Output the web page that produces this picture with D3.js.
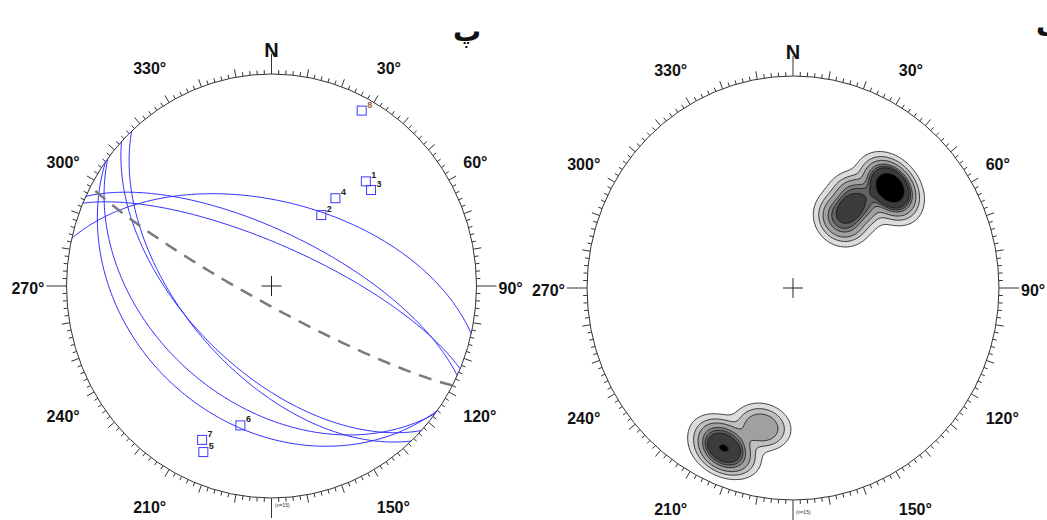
<!DOCTYPE html>
<html><head><meta charset="utf-8">
<script src="https://cdn.jsdelivr.net/npm/d3@7"></script>
<style>body{margin:0;background:#fff}svg{display:block}</style>
</head><body>
<svg id="chart" width="1047" height="520"></svg>
<script>
// Poles to the measured planes (trend / plunge, degrees), lower hemisphere
const poleIds     = [1, 2, 3, 4, 5, 6, 7, 8];
const poleTrend   = [43, 36, 47, 37, 203, 193, 205, 28];
const polePlunge  = [33, 56, 34, 47, 16, 33, 21, 7];
// Number of measurements carried by each pole in the density count (n = 15)
const poleCount   = [3, 2, 3, 2, 2, 1, 2, 0];
// Planes drawn as great circles (dip direction / dip)
const planeDipDir = [223, 216, 227, 217, 23, 13, 25];
const planeDip    = [57, 34, 56, 43, 74, 57, 69];
// Dashed great circle
const dashedDipDir = [208];
const dashedDip    = [83];
// Compass ring
const ringAngles = [30, 60, 90, 120, 150, 210, 240, 270, 300, 330];
const ringLabels = ["30°", "60°", "90°", "120°", "150°", "210°", "240°", "270°", "300°", "330°"];
const northLabel = "N";
const countLabel = "(n=15)";
const panelLabels = ["پ", "ب"];
// Density contour levels (smoothed counts) and their fills
const densityLevels = [0.08, 0.25, 0.55, 1.1, 1.5, 1.9, 3.4];
const levelFills = ["#dcdcdc", "#bfbfbf", "#a0a0a0", "#828282", "#626262", "#3c3c3c", "#000000"];

const rad = Math.PI / 180;
const svg = d3.select("#chart");

function dirVec(trend, plunge) {
  const t = trend * rad, p = plunge * rad;
  return [Math.cos(p) * Math.cos(t), Math.cos(p) * Math.sin(t), Math.sin(p)];
}
// Schmidt (equal-area) lower-hemisphere projection of a unit vector (N, E, Down)
function project(v) {
  let [n, e, d] = v;
  if (d < 0) { n = -n; e = -e; d = -d; }
  const theta = Math.acos(Math.min(1, d));
  const r = Math.SQRT2 * Math.sin(theta / 2);
  const h = Math.hypot(n, e);
  if (h < 1e-12) return [0, 0];
  return [r * e / h, r * n / h];
}
function greatCircle(dipDir, dip) {
  const s = dirVec(dipDir - 90, 0), u = dirVec(dipDir, dip);
  return d3.range(0, 180.5, 1).map(a => {
    const c = Math.cos(a * rad), sn = Math.sin(a * rad);
    return project([s[0] * c + u[0] * sn, s[1] * c + u[1] * sn, s[2] * c + u[2] * sn]);
  });
}

function drawNet(cx, cy, rx, ry, countPos) {
  const g = svg.append("g");
  const x = d3.scaleLinear().domain([-1, 1]).range([cx - rx, cx + rx]);
  const y = d3.scaleLinear().domain([-1, 1]).range([cy + ry, cy - ry]);
  const ring = (deg, extra) => [cx + (rx + extra) * Math.sin(deg * rad), cy - (ry + extra) * Math.cos(deg * rad)];

  g.append("ellipse").attr("cx", cx).attr("cy", cy).attr("rx", rx).attr("ry", ry)
    .attr("fill", "none").attr("stroke", "#333").attr("stroke-width", 1);

  const ticks = d3.range(0, 360, 2);
  g.append("g").selectAll("line").data(ticks).join("line")
    .each(function (d) {
      const len = d % 90 === 0 ? 20 : (d % 10 === 0 ? 8 : 4);
      const a = ring(d, 0), b = ring(d, len);
      d3.select(this).attr("x1", a[0]).attr("y1", a[1]).attr("x2", b[0]).attr("y2", b[1]);
    })
    .attr("stroke", "#333").attr("stroke-width", 1);

  // centre cross
  g.append("path").attr("d", `M${cx - 10},${cy}H${cx + 10}M${cx},${cy - 10}V${cy + 10}`)
    .attr("stroke", "#222").attr("stroke-width", 1);

  // azimuth labels: the corner of each label nearest the ring sits just outside it
  const lab = g.append("g").attr("font-family", "Liberation Sans, Arial, sans-serif")
    .attr("font-weight", "bold").attr("font-size", 16).attr("fill", "#111");
  ringAngles.forEach((deg, i) => {
    const s = Math.sin(deg * rad), c = Math.cos(deg * rad);
    const p = ring(deg, 0);
    const ax = p[0] + 22 * s * s * s;
    let base;
    if (c > 0.1) base = p[1] - 35 * c * Math.sqrt(c);
    else if (c < -0.1) base = p[1] + 30 * (-c) * Math.sqrt(-c) + 19;
    else base = p[1] + 8;
    const anchor = s > 0.1 ? "start" : (s < -0.1 ? "end" : "middle");
    lab.append("text").attr("x", ax).attr("y", base).attr("text-anchor", anchor).text(ringLabels[i]);
  });
  g.append("text").attr("x", cx).attr("y", cy - ry - 17).attr("text-anchor", "middle")
    .attr("font-family", "Liberation Sans, Arial, sans-serif").attr("font-weight", "bold")
    .attr("font-size", 20).attr("fill", "#111").text(northLabel);
  g.append("text").attr("x", countPos[0]).attr("y", countPos[1]).attr("font-size", 5)
    .attr("font-family", "Liberation Sans, Arial, sans-serif").attr("fill", "#333").text(countLabel);
  return {g, x, y, cx, cy, rx, ry};
}

// ---------- left net: planes and poles ----------
const L = drawNet(271.5, 286, 205, 212, [275, 507]);
const lineL = d3.line().x(d => L.x(d[0])).y(d => L.y(d[1]));

L.g.append("g").selectAll("path").data(planeDipDir).join("path")
  .attr("d", (d, i) => lineL(greatCircle(d, planeDip[i])))
  .attr("fill", "none").attr("stroke", "#2f2fff").attr("stroke-width", 1);

L.g.append("g").selectAll("path").data(dashedDipDir).join("path")
  .attr("d", (d, i) => lineL(greatCircle(d, dashedDip[i])))
  .attr("fill", "none").attr("stroke", "#7a7a7a").attr("stroke-width", 2.5)
  .attr("stroke-dasharray", "13,9");

const polesXY = poleTrend.map((t, i) => project(dirVec(t, polePlunge[i])));
const poleG = L.g.append("g");
poleG.selectAll("rect").data(polesXY).join("rect")
  .attr("x", d => L.x(d[0]) - 4.5).attr("y", d => L.y(d[1]) - 4.5)
  .attr("width", 9).attr("height", 9)
  .attr("fill", "none").attr("stroke", "#3a3aff").attr("stroke-width", 1);
poleG.selectAll("text").data(polesXY).join("text")
  .attr("x", d => L.x(d[0]) + 5.5).attr("y", d => L.y(d[1]) - 3)
  .attr("font-family", "Liberation Sans, Arial, sans-serif").attr("font-weight", "bold")
  .attr("font-size", 9).attr("fill", (d, i) => poleIds[i] === 8 ? "#9a6a3a" : "#222")
  .text((d, i) => poleIds[i]);

// ---------- right net: pole density contours ----------
const R = drawNet(793, 288, 206, 212, [796, 514]);
const N = 320, ext = 1.1, step = 2 * ext / N;
const poleVecs = poleTrend.map((t, i) => dirVec(t, polePlunge[i]));
// smoothed counting cap: ~6 deg radius with a soft edge
const capRadius = 6 * rad, capSoft = 1.7 * rad;
const kernel = a => 1 / (1 + Math.exp((a - capRadius) / capSoft));
const values = new Float64Array(N * N);
for (let j = 0; j < N; j++) {
  for (let i = 0; i < N; i++) {
    const px = -ext + (i + 0.5) * step, py = ext - (j + 0.5) * step;
    const r = Math.min(Math.hypot(px, py), Math.SQRT2 - 1e-6);
    const theta = 2 * Math.asin(r / Math.SQRT2);
    const tr = Math.atan2(px, py);
    const v = [Math.sin(theta) * Math.cos(tr), Math.sin(theta) * Math.sin(tr), Math.cos(theta)];
    let s = 0;
    poleVecs.forEach((p, k) => {
      if (!poleCount[k]) return;
      const dot = Math.min(1, Math.abs(v[0] * p[0] + v[1] * p[1] + v[2] * p[2]));
      s += poleCount[k] * kernel(Math.acos(dot));
    });
    values[i + j * N] = s;
  }
}
const contours = d3.contours().size([N, N]).thresholds(densityLevels)(values);
const gridPath = d3.geoPath(d3.geoTransform({
  point: function (gx, gy) { this.stream.point(R.x(-ext + gx * step), R.y(ext - gy * step)); }
}));
const defs = svg.append("defs");
defs.append("clipPath").attr("id", "netClip").append("ellipse")
  .attr("cx", R.cx).attr("cy", R.cy).attr("rx", R.rx).attr("ry", R.ry);
svg.insert("g", ":first-child").attr("clip-path", "url(#netClip)")
  .selectAll("path").data(contours).join("path")
  .attr("d", gridPath)
  .attr("fill", (d, i) => levelFills[i])
  .attr("stroke", "#111").attr("stroke-width", 0.8);

// panel letters
svg.append("text").attr("x", 467).attr("y", 41).attr("text-anchor", "middle")
  .attr("font-family", "DejaVu Sans, sans-serif").attr("font-weight", "bold").attr("font-size", 28)
  .attr("fill", "#111").text(panelLabels[0]);
svg.append("text").attr("x", 1036).attr("y", 36)
  .attr("font-family", "DejaVu Sans, sans-serif").attr("font-weight", "bold").attr("font-size", 28)
  .attr("fill", "#111").text(panelLabels[1]);
</script>
</body></html>
